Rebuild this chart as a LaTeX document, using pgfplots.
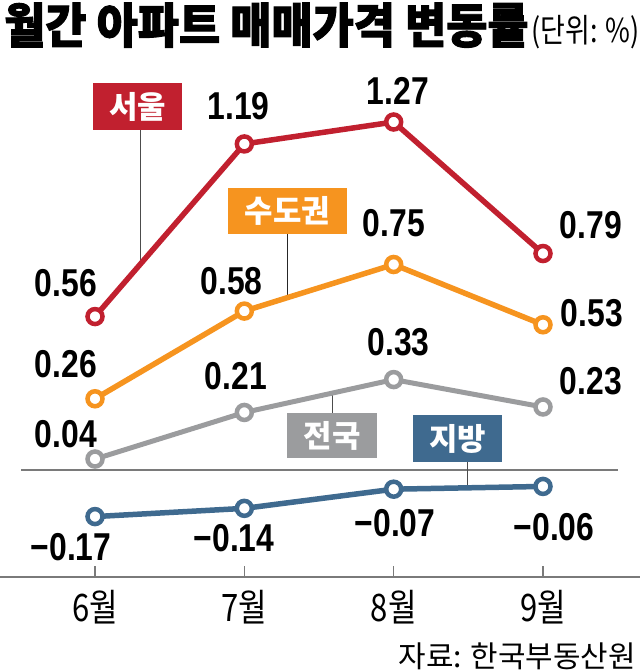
\documentclass[border=0pt]{standalone}
\usepackage{fontspec}
\setmainfont{Liberation Sans}
\newfontfamily\numfont[FakeStretch=0.82]{Liberation Sans}
\newfontfamily\kr{Noto Sans CJK KR}
\newfontfamily\krc[FakeStretch=0.82]{Noto Sans CJK KR}
\newfontfamily\krt[FakeStretch=0.935,FakeBold=2]{Noto Sans CJK KR}
\usepackage{pgfplots}
\pgfplotsset{compat=1.18}
\definecolor{cSeoul}{HTML}{C1202F}
\definecolor{cMetro}{HTML}{F6941F}
\definecolor{cNat}{HTML}{9B9C9E}
\definecolor{cReg}{HTML}{3F6A8F}
\definecolor{cAxis}{HTML}{7A7A7A}
\begin{document}
\begin{tikzpicture}
% zero line and leaders (drawn first, under the series)
\begin{scope}[x=1bp,y=-1bp,shift={(0,577bp)}]
  \draw[cAxis, line width=1.3bp] (21,470) -- (618,470);
  \draw[black!70, line width=0.9bp] (140,130) -- (140,265);
  \draw[black!85, line width=0.9bp] (287,234) -- (287,297);
  \draw[black!70, line width=0.9bp] (332,413) -- (332,393);
  \draw[black!70, line width=0.9bp] (467,462) -- (467,488);
\end{scope}
\begin{axis}[
  at={(0,0)}, anchor=south west, scale only axis,
  width=640bp, height=577bp,
  xmin=-0.6362, xmax=3.6496, ymin=-0.3905, ymax=1.7153,
  axis x line=bottom, axis y line=none,
  axis line style={-, cAxis, line width=1.3bp},
  xtick={0,1,2,3}, xticklabels={6월,7월,8월,9월},
  tick align=inside, major tick length=11bp,
  tick style={cAxis, line width=1.2bp},
  xticklabel style={anchor=center, yshift=-30bp, font=\krc\fontsize{38}{40}\selectfont},
  clip=false]
\addplot[cNat, line width=5bp, mark=*, mark size=7.5bp, mark options={fill=white, draw=cNat, line width=4.5bp}]
  coordinates {(0,0.04) (1,0.21) (2,0.33) (3,0.23)};
\addplot[cReg, line width=5.5bp, mark=*, mark size=7.5bp, mark options={fill=white, draw=cReg, line width=4.5bp}]
  coordinates {(0,-0.17) (1,-0.14) (2,-0.07) (3,-0.06)};
\addplot[cMetro, line width=5.5bp, mark=*, mark size=7.5bp, mark options={fill=white, draw=cMetro, line width=4.5bp}]
  coordinates {(0,0.26) (1,0.58) (2,0.75) (3,0.53)};
\addplot[cSeoul, line width=5.5bp, mark=*, mark size=7.5bp, mark options={fill=white, draw=cSeoul, line width=4.5bp}]
  coordinates {(0,0.56) (1,1.19) (2,1.27) (3,0.79)};
\end{axis}
\begin{scope}[x=1bp,y=-1bp,shift={(0,577bp)},
  num/.style={inner sep=0pt, anchor=center, font=\numfont\bfseries\fontsize{39}{40}\selectfont},
  badge/.style={inner sep=0pt, anchor=center, text=white, font=\kr\bfseries\fontsize{31}{31}\selectfont}]
  % title
  \node[anchor=base west, inner sep=0pt] at (4,43) {{\krt\bfseries\fontsize{48}{50}\selectfont 월간 아파트 매매가격 변동률}\kern3bp{\krc\fontsize{33}{34}\selectfont(단위: \%)}};
  % badges
  \node[badge, fill=cSeoul, minimum width=89bp, minimum height=47bp] at (137.5,106.5) {서울};
  \node[badge, fill=cMetro, minimum width=119bp, minimum height=46bp] at (287.5,211) {수도권};
  \node[badge, fill=cNat, minimum width=90bp, minimum height=45bp] at (332,435.5) {전국};
  \node[badge, fill=cReg, minimum width=89bp, minimum height=47bp] at (457.5,438.5) {지방};
  % value labels
  \node[num] at (66,283) {0.56};
  \node[num] at (238.5,106.5) {1.19};
  \node[num] at (398,91) {1.27};
  \node[num] at (591,225) {0.79};
  \node[num] at (66,364) {0.26};
  \node[num] at (231.5,281.5) {0.58};
  \node[num] at (394,223.5) {0.75};
  \node[num] at (592,313) {0.53};
  \node[num] at (66,434) {0.04};
  \node[num] at (236,376.5) {0.21};
  \node[num] at (398.5,342) {0.33};
  \node[num] at (591,381) {0.23};
  \node[num] at (71,547) {−0.17};
  \node[num] at (234,538.5) {−0.14};
  \node[num] at (395,523) {−0.07};
  \node[num] at (554,527) {−0.06};
  % source
  \node[anchor=base east, inner sep=0pt] at (636,668) {\kr\fontsize{30}{30}\selectfont 자료: 한국부동산원};
\end{scope}
\pgfresetboundingbox
\path[use as bounding box] (0,-95bp) rectangle (640bp,577bp);
\end{tikzpicture}
\end{document}
